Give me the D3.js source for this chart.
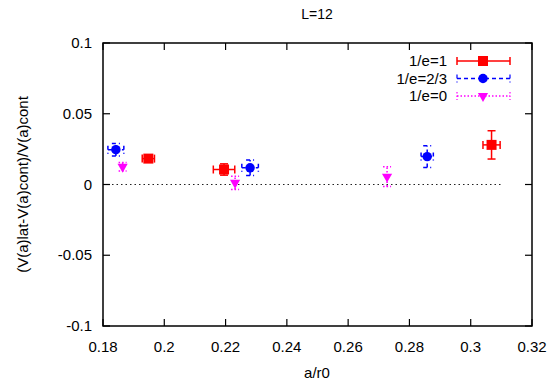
<!DOCTYPE html>
<html>
<head>
<meta charset="utf-8">
<script src="https://d3js.org/d3.v7.min.js"></script>
<style>
  body { margin: 0; background: #fff; }
  text { font-family: "Liberation Sans", Arial, Helvetica, sans-serif; }
</style>
</head>
<body>
<div id="chart"></div>
<script>
// data: x, y, x error, y error
const series = ["1/e=1", "1/e=2/3", "1/e=0"];
const red = [[0.1948, 0.0183, 0.0020, 0.0020], [0.2195, 0.0106, 0.0035, 0.0040], [0.3068, 0.0280, 0.0028, 0.0100]];
const blue = [[0.1842, 0.0246, 0.0026, 0.0044], [0.2280, 0.0118, 0.0027, 0.0055], [0.2858, 0.0197, 0.0020, 0.0077]];
const magenta = [[0.1864, 0.0125, 0.0000, 0.0030], [0.2231, 0.0012, 0.0000, 0.0047], [0.2727, 0.0056, 0.0000, 0.0070]];
const xTicks = [0.18, 0.2, 0.22, 0.24, 0.26, 0.28, 0.3, 0.32];
const yTicks = [-0.1, -0.05, 0, 0.05, 0.1];

const width = 555, height = 384;
const margin = {top: 43, right: 23, bottom: 58, left: 103};

const svg = d3.select("#chart").append("svg")
    .attr("width", width)
    .attr("height", height);

const x = d3.scaleLinear().domain([0.18, 0.32]).range([margin.left, width - margin.right]);
const y = d3.scaleLinear().domain([-0.1, 0.1]).range([height - margin.bottom, margin.top]);

// zero line
svg.append("line")
    .attr("x1", x(0.18)).attr("x2", x(0.31))
    .attr("y1", y(0)).attr("y2", y(0))
    .attr("stroke", "#222").attr("stroke-width", 1.2)
    .attr("stroke-dasharray", "1.5,3");

// ticks inward, gnuplot style
const tickLen = 7;
xTicks.forEach(t => {
    svg.append("line").attr("x1", x(t)).attr("x2", x(t))
        .attr("y1", y(-0.1)).attr("y2", y(-0.1) - tickLen)
        .attr("stroke", "#000").attr("stroke-width", 1.2);
    svg.append("line").attr("x1", x(t)).attr("x2", x(t))
        .attr("y1", y(0.1)).attr("y2", y(0.1) + tickLen)
        .attr("stroke", "#000").attr("stroke-width", 1.2);
    svg.append("text").attr("x", x(t)).attr("y", y(-0.1) + 26)
        .attr("text-anchor", "middle").attr("font-size", 15)
        .text(String(t));
});
yTicks.forEach(t => {
    svg.append("line").attr("x1", x(0.18)).attr("x2", x(0.18) + tickLen)
        .attr("y1", y(t)).attr("y2", y(t))
        .attr("stroke", "#000").attr("stroke-width", 1.2);
    svg.append("line").attr("x1", x(0.32)).attr("x2", x(0.32) - tickLen)
        .attr("y1", y(t)).attr("y2", y(t))
        .attr("stroke", "#000").attr("stroke-width", 1.2);
    svg.append("text").attr("x", x(0.18) - 11).attr("y", y(t) + 5)
        .attr("text-anchor", "end").attr("font-size", 15)
        .text(String(t));
});

// frame
svg.append("rect")
    .attr("x", x(0.18)).attr("y", y(0.1))
    .attr("width", x(0.32) - x(0.18)).attr("height", y(-0.1) - y(0.1))
    .attr("fill", "none").attr("stroke", "#000").attr("stroke-width", 1.5);

// labels
svg.append("text").attr("x", 317).attr("y", 19)
    .attr("text-anchor", "middle").attr("font-size", 14).text("L=12");
svg.append("text").attr("x", 317).attr("y", 378)
    .attr("text-anchor", "middle").attr("font-size", 15).text("a/r0");
svg.append("text")
    .attr("transform", "translate(28," + y(0) + ") rotate(-90)")
    .attr("text-anchor", "middle").attr("font-size", 15)
    .text("(V(a)lat-V(a)cont)/V(a)cont");

const styles = [
    {data: red, color: "#ff0000", dash: null, shape: d3.symbolSquare, size: 100, rot: 0},
    {data: blue, color: "#0000ff", dash: "4,3", shape: d3.symbolCircle, size: 70, rot: 0},
    {data: magenta, color: "#ff00ff", dash: "1.5,2", shape: d3.symbolTriangle, size: 45, rot: 180}
];

const cap = 4;
function errBar(g, cx, cy, xe, ye, s) {
    const lines = [];
    if (xe > 0) {
        lines.push([x(cx - xe), y(cy), x(cx + xe), y(cy)]);
        lines.push([x(cx - xe), y(cy) - cap, x(cx - xe), y(cy) + cap]);
        lines.push([x(cx + xe), y(cy) - cap, x(cx + xe), y(cy) + cap]);
    }
    if (ye > 0) {
        lines.push([x(cx), y(cy - ye), x(cx), y(cy + ye)]);
        lines.push([x(cx) - cap, y(cy - ye), x(cx) + cap, y(cy - ye)]);
        lines.push([x(cx) - cap, y(cy + ye), x(cx) + cap, y(cy + ye)]);
    }
    lines.forEach(l => {
        g.append("line").attr("x1", l[0]).attr("y1", l[1]).attr("x2", l[2]).attr("y2", l[3])
            .attr("stroke", s.color).attr("stroke-width", 1.5)
            .attr("stroke-dasharray", s.dash);
    });
}

styles.forEach((s, i) => {
    const g = svg.append("g");
    s.data.forEach(d => {
        errBar(g, d[0], d[1], d[2], d[3], s);
        g.append("path")
            .attr("d", d3.symbol().type(s.shape).size(s.size)())
            .attr("transform", "translate(" + x(d[0]) + "," + y(d[1]) + ") rotate(" + s.rot + ")")
            .attr("fill", s.color);
    });

    // legend
    const ly = 61 + i * 17.5;
    svg.append("text").attr("x", 447).attr("y", ly + 5)
        .attr("text-anchor", "end").attr("font-size", 15).text(series[i]);
    svg.append("line").attr("x1", 457).attr("x2", 510).attr("y1", ly).attr("y2", ly)
        .attr("stroke", s.color).attr("stroke-width", 1.5).attr("stroke-dasharray", s.dash);
    [457, 510].forEach(px => svg.append("line").attr("x1", px).attr("x2", px)
        .attr("y1", ly - cap).attr("y2", ly + cap)
        .attr("stroke", s.color).attr("stroke-width", i === 0 ? 1.5 : 1.2)
        .attr("stroke-dasharray", s.dash));
    svg.append("path")
        .attr("d", d3.symbol().type(s.shape).size(s.size)())
        .attr("transform", "translate(483," + ly + ") rotate(" + s.rot + ")")
        .attr("fill", s.color);
});
</script>
</body>
</html>
